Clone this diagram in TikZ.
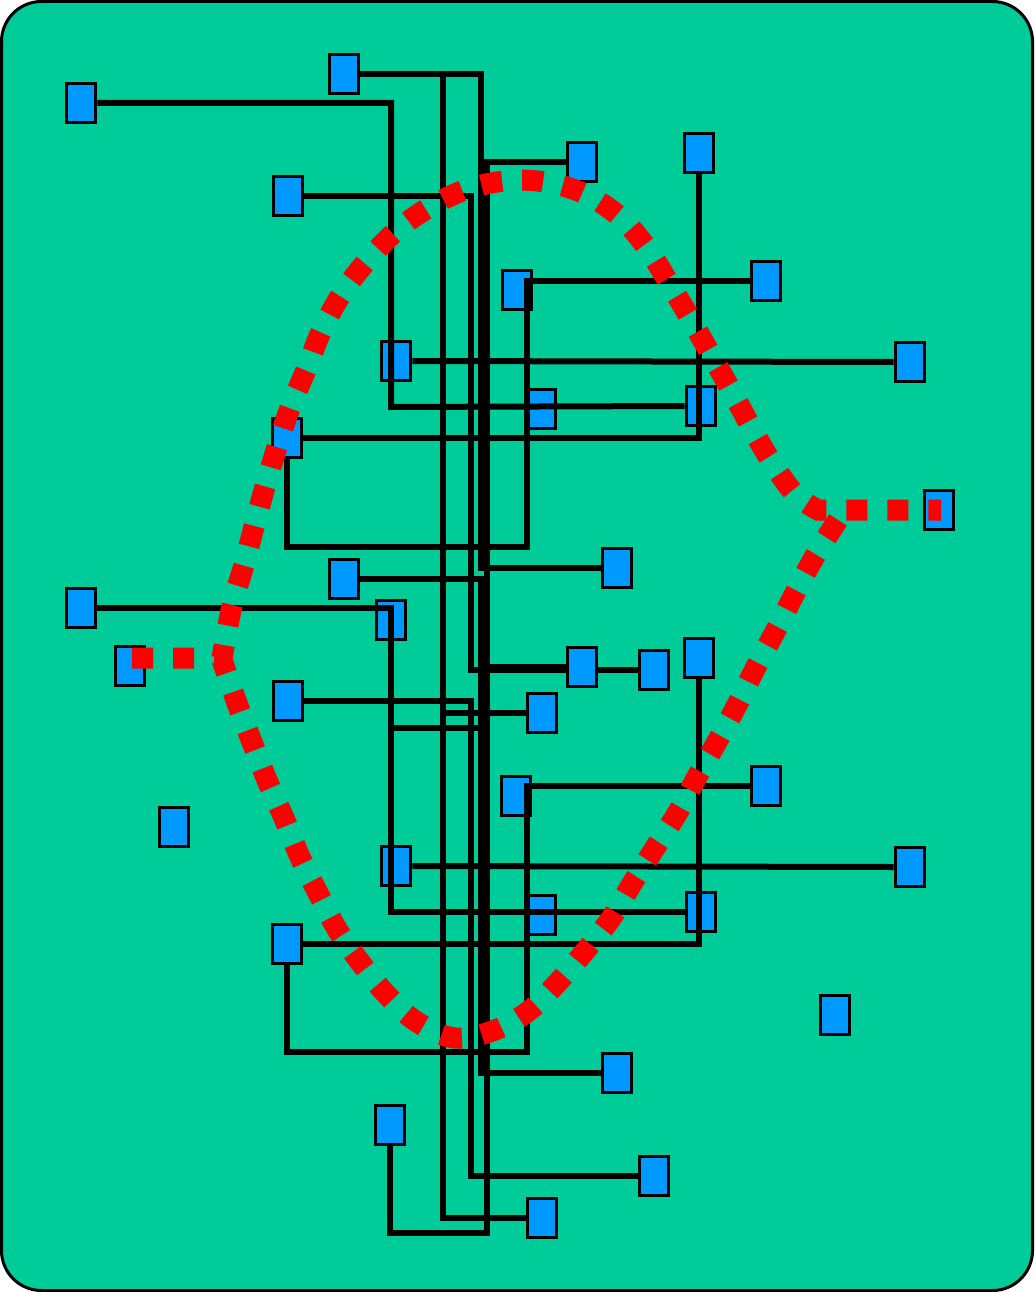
\documentclass[tikz,border=0pt]{standalone}
\usepackage{tikz}
\definecolor{bggreen}{RGB}{0,204,153}
\definecolor{boxblue}{RGB}{0,153,255}
\definecolor{dotred}{RGB}{255,0,0}
\begin{document}
\begin{tikzpicture}[x=1pt,y=-1pt,
  blk/.style={draw=black,line width=3.2pt,fill=boxblue,rectangle,inner sep=0pt,minimum width=29.5pt,minimum height=39.5pt},
  wire/.style={draw=black,line width=6pt,line join=miter},
  reddash/.style={draw=dotred,line width=21pt,dash pattern=on 21pt off 20pt}]
\useasboundingbox (0,0) rectangle (1034,1292);
\draw[fill=bggreen,line width=3pt,rounded corners=40pt] (1.5,1.5) rectangle (1032.5,1290.5);
% boxes
\node[blk] (b1) at (81,103) {};
\node[blk] (b2) at (344,74) {};
\node[blk] (b3) at (288,196) {};
\node[blk] (b4) at (582,162) {};
\node[blk] (b5) at (699,153) {};
\node[blk] (b6) at (517,290) {};
\node[blk] (b7) at (766,281) {};
\node[blk] (b8) at (396,361) {};
\node[blk] (b9) at (910,362) {};
\node[blk] (b10) at (541,409) {};
\node[blk] (b11) at (701,406) {};
\node[blk] (b12) at (287,438) {};
\node[blk] (b13) at (939,510) {};
\node[blk] (b14) at (617,568) {};
\node[blk] (b15) at (344,579) {};
\node[blk] (b16) at (81,608) {};
\node[blk] (b17) at (391,620) {};
\node[blk] (b18) at (130,666) {};
\node[blk] (b20) at (654,670) {};
\node[blk] (b21) at (699,658) {};
\node[blk] (b22) at (288,701) {};
\node[blk] (b23) at (542,713) {};
\node[blk] (b24) at (516,796) {};
\node[blk] (b25) at (766,786) {};
\node[blk] (b26) at (396,866) {};
\node[blk] (b27) at (910,867) {};
\node[blk] (b28) at (541,915) {};
\node[blk] (b29) at (701,912) {};
\node[blk] (b30) at (287,944) {};
\node[blk] (b31) at (174,827) {};
\node[blk] (b32) at (835,1015) {};
\node[blk] (b33) at (617,1073) {};
\node[blk] (b34) at (390,1125) {};
\node[blk] (b35) at (654,1176) {};
\node[blk] (b36) at (542,1218) {};
% wires, upper half
\draw[wire] (b1.east) -| (391,407) -- (b11.west);
\draw[wire] (b2.east) -| (481,568) -- (b14.west);
\draw[wire] (443,74) -- (443,713) -- (b23.west);
\draw[wire] (b3.east) -| (471,670) -- (b20.west);
\draw[wire] (b4.west) -| (487,728) -| (b17.south);
\draw[wire] (b5.south) |- (b12.east);
\draw[wire] (b7.west) -| (527,547) -| (b12.south);
\draw[wire] (b8.east) -- (b9.west);
% wires, lower half
\draw[wire] (b16.east) -| (391,912) -- (b29.west);
\draw[wire] (b15.east) -| (481,1073) -- (b33.west);
\draw[wire] (443,579) -- (443,1218) -- (b36.west);
\draw[wire] (b22.east) -| (471,1176) -- (b35.west);
\node[blk] (b19) at (582,667) {};
\draw[wire] (b19.west) -| (487,1233) -| (b34.south);
\draw[wire] (b21.south) |- (b30.east);
\draw[wire] (b25.west) -| (527,1052) -| (b30.south);
\draw[wire] (b26.east) -- (b27.west);
% red dotted lens
\draw[reddash] (132,658) -- (222,658) -- plot[smooth,tension=0.6] coordinates {(222,658) (232,606) (244,565) (254,527) (265,487) (277,447) (290,408) (306,370) (321,332) (341,295) (366,262) (395,232) (428,208) (465,190) (505,181) (545,182) (585,194) (620,217) (647,248) (669,283) (690,318) (710,353) (731,390) (750,425) (771,461) (795,494) (818,510)} -- (941,510);
\draw[reddash] plot[smooth,tension=0.6] coordinates {(838,520) (815,556) (795,593) (776,630) (756,667) (738,703) (718,740) (698,775) (678,812) (655,848) (633,882) (612,917) (586,950) (560,980) (530,1010) (495,1030) (455,1038) (417,1022) (387,995) (360,962) (337,929) (318,893) (300,857) (284,818) (267,780) (252,742) (237,703) (222,660)};
\end{tikzpicture}
\end{document}
